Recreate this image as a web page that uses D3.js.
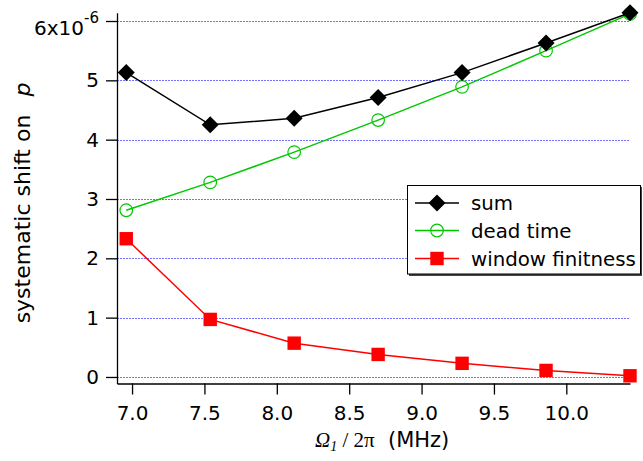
<!DOCTYPE html>
<html>
<head>
<meta charset="utf-8">
<script src="https://cdn.jsdelivr.net/npm/d3@7/dist/d3.min.js"></script>
<style>
  html, body { margin: 0; padding: 0; background: #fff; }
  svg { display: block; }
</style>
</head>
<body>
<svg id="chart" width="643" height="461"></svg>
<script>
// ---- data ----
const xValues = [6.96, 7.54, 8.12, 8.70, 9.28, 9.86, 10.44];
const sumValues = [5.13, 4.25, 4.36, 4.71, 5.13, 5.63, 6.14];
const deadTimeValues = [2.81, 3.28, 3.79, 4.33, 4.89, 5.50, 6.12];
const windowFinitnessValues = [2.33, 0.97, 0.57, 0.38, 0.23, 0.11, 0.02];
const xTicks = [7.0, 7.5, 8.0, 8.5, 9.0, 9.5, 10.0];
const yTicks = [0, 1, 2, 3, 4, 5, 6];
const seriesNames = ["sum", "dead time", "window finitness"];

const svg = d3.select("#chart");
const FONT = "'DejaVu Sans', sans-serif";

const x = d3.scaleLinear().domain([6.896, 10.44]).range([117, 630]);
const y = d3.scaleLinear().domain([-0.11, 6.14]).range([383.5, 12.7]);

// gridlines
svg.append("g").selectAll("line").data(yTicks).join("line")
  .attr("x1", 117).attr("x2", 630)
  .attr("y1", d => Math.round(y(d)) + 0.5).attr("y2", d => Math.round(y(d)) + 0.5)
  .attr("stroke", "#7373ff").attr("stroke-width", 1).attr("stroke-dasharray", "2,1")
  .attr("shape-rendering", "crispEdges");

// axes
const xAxis = d3.axisBottom(x).tickValues(xTicks).tickFormat(d3.format(".1f"))
  .tickSize(11).tickPadding(11).tickSizeOuter(0);
const gx = svg.append("g").attr("transform", "translate(0,383.5)").call(xAxis);
gx.select(".domain").attr("stroke", "#000").attr("stroke-width", 1.3);
gx.selectAll(".tick line").attr("stroke", "#000").attr("stroke-width", 1.3);
gx.selectAll(".tick text").attr("font-family", FONT).attr("font-size", 20).attr("fill", "#000");

const yAxis = d3.axisLeft(y).tickValues(yTicks).tickFormat(d => d === 6 ? "" : d)
  .tickSize(11).tickPadding(7).tickSizeOuter(0);
const gy = svg.append("g").attr("transform", "translate(117,0)").call(yAxis);
gy.select(".domain").attr("stroke", "#000").attr("stroke-width", 1.3);
gy.selectAll(".tick line").attr("stroke", "#000").attr("stroke-width", 1.3);
gy.selectAll(".tick text").attr("font-family", FONT).attr("font-size", 20).attr("fill", "#000");
// top label 6x10^-6
const topTick = gy.selectAll(".tick").filter(d => d === 6).select("text");
topTick.text(null).attr("dy", "0.68em");
topTick.append("tspan").text("6x10");
topTick.append("tspan").text("-6").attr("font-size", 15).attr("dy", "-0.8em");

// series
const series = [
  {name: seriesNames[2], values: windowFinitnessValues, color: "#ff0000", marker: "square"},
  {name: seriesNames[1], values: deadTimeValues, color: "#00c800", marker: "circle"},
  {name: seriesNames[0], values: sumValues, color: "#000000", marker: "diamond"}
];

function drawMarker(g, type, color, cx, cy) {
  if (type === "square") {
    g.append("rect").attr("x", cx - 6.7).attr("y", cy - 6.7).attr("width", 13.4).attr("height", 13.4)
      .attr("fill", color);
  } else if (type === "circle") {
    g.append("circle").attr("cx", cx).attr("cy", cy).attr("r", 6.3)
      .attr("fill", "none").attr("stroke", color).attr("stroke-width", 1.2);
  } else {
    const r = 8.5;
    g.append("path").attr("d", `M${cx},${cy - r}L${cx + r},${cy}L${cx},${cy + r}L${cx - r},${cy}Z`)
      .attr("fill", color);
  }
}

const line = d3.line().x(d => x(d[0])).y(d => y(d[1]));
series.forEach(s => {
  const pts = xValues.map((xv, i) => [xv, s.values[i]]);
  svg.append("path").datum(pts).attr("d", line)
    .attr("fill", "none").attr("stroke", s.color).attr("stroke-width", 1.5);
  const g = svg.append("g");
  pts.forEach(p => drawMarker(g, s.marker, s.color, x(p[0]), y(p[1])));
});

// legend
const lg = svg.append("g");
lg.append("rect").attr("x", 409).attr("y", 187).attr("width", 233).attr("height", 89).attr("fill", "#444");
lg.append("rect").attr("x", 407.5).attr("y", 185.5).attr("width", 233).attr("height", 88.5)
  .attr("fill", "#fff").attr("stroke", "#000").attr("stroke-width", 1);
const legendRows = [
  {name: seriesNames[0], color: "#000000", marker: "diamond", yy: 203},
  {name: seriesNames[1], color: "#00c800", marker: "circle", yy: 230.5},
  {name: seriesNames[2], color: "#ff0000", marker: "square", yy: 258.5}
];
legendRows.forEach(r => {
  lg.append("line").attr("x1", 415).attr("x2", 459).attr("y1", r.yy).attr("y2", r.yy)
    .attr("stroke", r.color).attr("stroke-width", 1.5);
  drawMarker(lg, r.marker, r.color, 437, r.yy);
  lg.append("text").attr("x", 471).attr("y", r.yy + 7).text(r.name)
    .attr("font-family", FONT).attr("font-size", 19.8).attr("fill", "#000");
});

// y label
const yl = svg.append("text").attr("transform", "translate(30,203) rotate(-90)")
  .attr("text-anchor", "middle").attr("font-family", FONT).attr("font-size", 22).attr("fill", "#000");
yl.append("tspan").text("systematic shift on");
yl.append("tspan").text("p").attr("font-style", "italic").attr("dx", 18);

// x label
const xl = svg.append("text").attr("x", 315).attr("y", 447).attr("fill", "#000");
xl.append("tspan").text("Ω").attr("font-family", "'Liberation Serif', serif").attr("font-style", "italic").attr("font-size", 21);
xl.append("tspan").text("1").attr("font-family", "'Liberation Serif', serif").attr("font-style", "italic").attr("font-size", 14).attr("dy", 4);
xl.append("tspan").text(" / 2π").attr("font-family", "'Liberation Serif', serif").attr("font-size", 21).attr("dy", -4);
xl.append("tspan").text("  (MHz)").attr("font-family", FONT).attr("font-size", 21).attr("xml:space", "preserve");
</script>
</body>
</html>
